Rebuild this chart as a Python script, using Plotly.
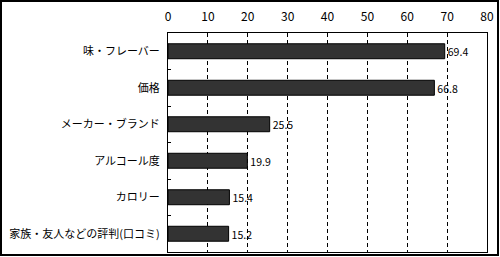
import plotly.graph_objects as go

categories = ["味・フレーバー", "価格", "メーカー・ブランド", "アルコール度", "カロリー", "家族・友人などの評判(口コミ)"]
values = [69.4, 66.8, 25.5, 19.9, 15.4, 15.2]
x_ticks = [0, 10, 20, 30, 40, 50, 60, 70, 80]

W, H = 500, 257
L, R, T, B = 168, 13, 33, 5
font = "Noto Sans CJK JP"

fig = go.Figure(go.Bar(
    x=values, y=categories, orientation="h",
    marker=dict(color="#333333", line=dict(color="black", width=1)),
    width=0.41,
    text=[f"{v}" for v in values], textposition="outside",
    textfont=dict(family=font, size=12, color="black"),
    cliponaxis=False,
))

pw, ph = W - L - R, H - T - B
fig.add_shape(type="rect", xref="paper", yref="paper",
              x0=(1 - L) / pw, x1=(W - 2 - L) / pw,
              y0=-(B - 2) / ph, y1=1 + (T - 1) / ph,
              line=dict(color="black", width=2), layer="above")

fig.update_layout(
    width=W, height=H, margin=dict(l=L, r=R, t=T, b=B),
    paper_bgcolor="white", plot_bgcolor="white",
    font=dict(family=font, size=11, color="black"),
    showlegend=False,
    xaxis=dict(range=[0, 80], side="top", tickvals=x_ticks, ticks="",
               showgrid=True, gridcolor="black", griddash="4px,3px", gridwidth=1,
               showline=True, linecolor="black", linewidth=1, mirror=True,
               zeroline=False, tickfont=dict(size=12), ticklabelstandoff=6),
    yaxis=dict(categoryorder="array", categoryarray=categories, autorange="reversed",
               ticks="inside", tickson="boundaries", ticklen=3, tickcolor="black",
               showline=True, linecolor="black", linewidth=1, mirror=True,
               showgrid=False, tickfont=dict(size=11), ticklabelstandoff=5),
)

fig.write_html("out.html")
